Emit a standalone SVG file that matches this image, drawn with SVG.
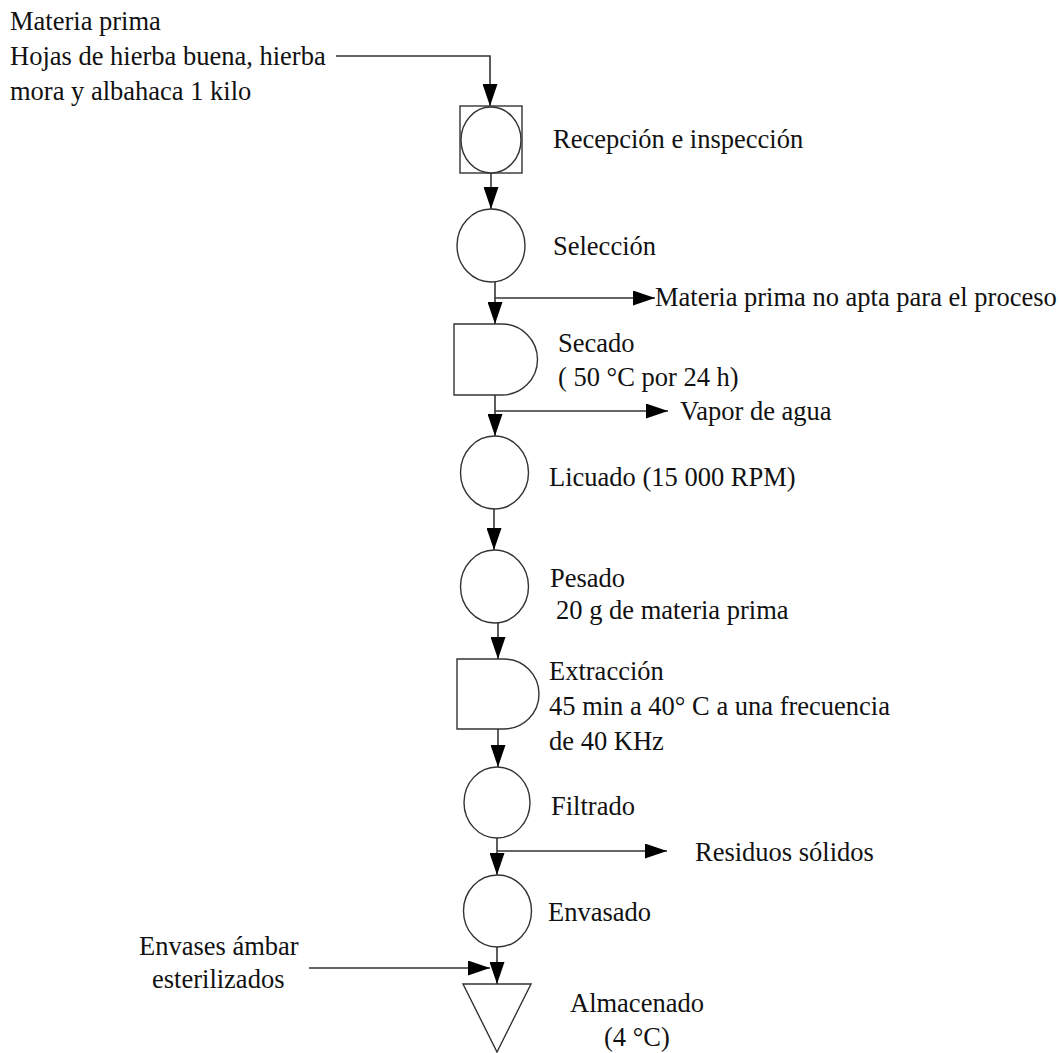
<svg xmlns="http://www.w3.org/2000/svg" width="1059" height="1053" viewBox="0 0 1059 1053">
<style>
.shape{fill:#fff;stroke:#333;stroke-width:1.4}
.conn{fill:none;stroke:#333;stroke-width:1.6}
</style>
<defs>
<marker id="ah" markerUnits="userSpaceOnUse" markerWidth="22" markerHeight="15" refX="22" refY="7.5" orient="auto">
<path d="M0,0 L22,7.5 L0,15 Z" fill="#000"/>
</marker>
</defs>
<rect width="1059" height="1053" fill="#fff"/>
<g id="connectors">
<polyline class="conn" points="336,56 490,56 490,106" marker-end="url(#ah)"/>
<line class="conn" x1="491" y1="173" x2="491" y2="209" marker-end="url(#ah)"/>
<line class="conn" x1="495" y1="282" x2="495" y2="324" marker-end="url(#ah)"/>
<line class="conn" x1="495" y1="298" x2="655" y2="298" marker-end="url(#ah)"/>
<line class="conn" x1="495" y1="395" x2="495" y2="436" marker-end="url(#ah)"/>
<line class="conn" x1="495" y1="411" x2="668" y2="411" marker-end="url(#ah)"/>
<line class="conn" x1="494" y1="509" x2="494" y2="550" marker-end="url(#ah)"/>
<line class="conn" x1="498" y1="623" x2="498" y2="659" marker-end="url(#ah)"/>
<line class="conn" x1="498" y1="729" x2="498" y2="767" marker-end="url(#ah)"/>
<line class="conn" x1="497" y1="838" x2="497" y2="875" marker-end="url(#ah)"/>
<line class="conn" x1="497" y1="851" x2="667" y2="851" marker-end="url(#ah)"/>
<line class="conn" x1="497" y1="947" x2="497" y2="984" marker-end="url(#ah)"/>
<line class="conn" x1="309" y1="968" x2="490" y2="968" marker-end="url(#ah)"/>
</g>
<g id="input-materia">
<text x="10" y="30" font-family="Liberation Serif" font-size="26.5" fill="#111">Materia prima</text>
<text x="10" y="65" font-family="Liberation Serif" font-size="26.5" fill="#111">Hojas de hierba buena, hierba</text>
<text x="10" y="100" font-family="Liberation Serif" font-size="26.5" fill="#111">mora y albahaca 1 kilo</text>
</g>
<g id="recepcion">
<rect class="shape" x="460" y="106" width="62" height="67"/>
<ellipse class="shape" cx="491" cy="140" rx="30" ry="33"/>
<text x="553" y="148" font-family="Liberation Serif" font-size="26.5" fill="#111">Recepción e inspección</text>
</g>
<g id="seleccion">
<ellipse class="shape" cx="491" cy="245.5" rx="34" ry="36.5"/>
<text x="553" y="255" font-family="Liberation Serif" font-size="26.5" fill="#111">Selección</text>
</g>
<g id="out-no-apta">
<text x="655" y="306" font-family="Liberation Serif" font-size="26.5" fill="#111">Materia prima no apta para el proceso</text>
</g>
<g id="secado">
<path class="shape" d="M454,324 H502 A35.5,35.5 0 0 1 502,395 H454 Z"/>
<text x="558" y="352" font-family="Liberation Serif" font-size="26.5" fill="#111">Secado</text>
<text x="558" y="386" font-family="Liberation Serif" font-size="26.5" fill="#111">( 50 °C por 24 h)</text>
</g>
<g id="out-vapor">
<text x="680" y="420" font-family="Liberation Serif" font-size="26.5" fill="#111">Vapor de agua</text>
</g>
<g id="licuado">
<ellipse class="shape" cx="494.5" cy="472.5" rx="34" ry="36.5"/>
<text x="549" y="486" font-family="Liberation Serif" font-size="26.5" fill="#111">Licuado (15 000 RPM)</text>
</g>
<g id="pesado">
<ellipse class="shape" cx="494.5" cy="586.5" rx="34" ry="36.5"/>
<text x="550" y="587" font-family="Liberation Serif" font-size="26.5" fill="#111">Pesado</text>
<text x="556" y="619" font-family="Liberation Serif" font-size="26.5" fill="#111">20 g de materia prima</text>
</g>
<g id="extraccion">
<path class="shape" d="M457,659 H504 A35,35 0 0 1 504,729 H457 Z"/>
<text x="549" y="680" font-family="Liberation Serif" font-size="26.5" fill="#111">Extracción</text>
<text x="549" y="715" font-family="Liberation Serif" font-size="26.5" fill="#111">45 min a 40° C a una frecuencia</text>
<text x="549" y="750" font-family="Liberation Serif" font-size="26.5" fill="#111">de 40 KHz</text>
</g>
<g id="filtrado">
<ellipse class="shape" cx="497" cy="802.5" rx="33" ry="35.5"/>
<text x="551" y="815" font-family="Liberation Serif" font-size="26.5" fill="#111">Filtrado</text>
</g>
<g id="out-residuos">
<text x="695" y="861" font-family="Liberation Serif" font-size="26.5" fill="#111">Residuos sólidos</text>
</g>
<g id="envasado">
<ellipse class="shape" cx="497.5" cy="911" rx="34" ry="36"/>
<text x="548" y="921" font-family="Liberation Serif" font-size="26.5" fill="#111">Envasado</text>
</g>
<g id="input-envases">
<text x="139" y="955" font-family="Liberation Serif" font-size="26.5" fill="#111">Envases ámbar</text>
<text x="152" y="988" font-family="Liberation Serif" font-size="26.5" fill="#111">esterilizados</text>
</g>
<g id="almacenado">
<path class="shape" d="M463,984 H531 L497,1052 Z"/>
<text x="570" y="1012" font-family="Liberation Serif" font-size="26.5" fill="#111">Almacenado</text>
<text x="604" y="1046" font-family="Liberation Serif" font-size="26.5" fill="#111">(4 °C)</text>
</g>
</svg>
